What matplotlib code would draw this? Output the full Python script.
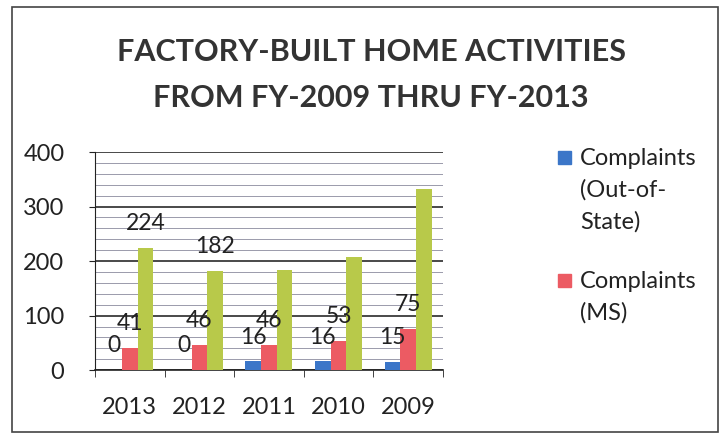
import numpy as np
import matplotlib
matplotlib.use("Agg")
import matplotlib.pyplot as plt
from matplotlib.patches import Rectangle
from matplotlib.ticker import MultipleLocator, FixedLocator

plt.rcParams['font.family'] = ['Lato', 'DejaVu Sans']

years = ['2013', '2012', '2011', '2010', '2009']
out_of_state = [0, 0, 16, 16, 15]
ms = [41, 46, 46, 53, 75]
third = [224, 182, 183, 208, 333]
third_labels = ['224', '182', '', '', '']
legend_lines = [['Complaints', '(Out-of-', 'State)'], ['Complaints', '(MS)']]

c_blue = '#3b76c8'
c_red = '#ec5b63'
c_green = '#b8c94a'
txt = '#222222'

fig = plt.figure(figsize=(7.25, 4.37), dpi=100)
ax = fig.add_axes([0.131, 0.153, 0.48, 0.499])

x = np.arange(len(years))
w = 0.225
b1 = ax.bar(x - w, out_of_state, w, color=c_blue, zorder=3)
b2 = ax.bar(x, ms, w, color=c_red, zorder=3)
b3 = ax.bar(x + w, third, w, color=c_green, zorder=3)

for bars, vals in [(b1, [str(v) for v in out_of_state]), (b2, [str(v) for v in ms]), (b3, third_labels)]:
    for r, t in zip(bars, vals):
        if t:
            ax.annotate(t, (r.get_x() + r.get_width() / 2, r.get_height()),
                        xytext=(0, 10), textcoords='offset points',
                        ha='center', va='bottom', fontsize=16.5, color=txt, zorder=4)

ax.set_xlim(-0.5, 4.5)
ax.set_ylim(0, 400)
ax.yaxis.set_major_locator(MultipleLocator(100))
ax.yaxis.set_minor_locator(MultipleLocator(20))
ax.grid(which='major', axis='y', color='#2a2a2a', lw=1.2, zorder=1)
ax.grid(which='minor', axis='y', color='#9a9aab', lw=0.7, zorder=1)
ax.tick_params(axis='y', which='minor', length=0)
ax.tick_params(axis='y', which='major', length=4, pad=18, labelsize=17,
               color=txt, labelcolor=txt)

ax.set_xticks(x)
ax.set_xticklabels(years)
ax.tick_params(axis='x', which='major', length=0, pad=19, labelsize=17, labelcolor=txt)
ax.xaxis.set_minor_locator(FixedLocator(np.arange(-0.5, 5, 1)))
ax.tick_params(axis='x', which='minor', length=5, color=txt)

for s in ['top', 'right']:
    ax.spines[s].set_visible(False)
ax.spines['left'].set_color(txt)
ax.spines['bottom'].set_color(txt)
ax.spines['bottom'].set_linewidth(1.2)

# legend drawn by hand so the marker sits on the first line
H = 437.0
W = 725.0
entries = [(c_blue, 165), (c_red, 288)]
for (col, base), lines in zip(entries, legend_lines):
    fig.patches.append(Rectangle((558 / W, 1 - (base - 1) / H), 13 / W, 13 / H,
                                 transform=fig.transFigure, color=col))
    for i, line in enumerate(lines):
        fig.text(580 / W, 1 - (base + 32 * i) / H, line, ha='left', va='baseline',
                 fontsize=17, color=txt)

fig.text(0.512, 0.88, 'FACTORY-BUILT HOME ACTIVITIES', ha='center', va='center',
         fontsize=22, fontweight='bold', color='#333333')
fig.text(0.512, 0.775, 'FROM FY-2009 THRU FY-2013', ha='center', va='center',
         fontsize=22, fontweight='bold', color='#333333')

fig.patches.append(Rectangle((0.016, 0.012), 0.975, 0.972, transform=fig.transFigure,
                             fill=False, edgecolor='#444444', lw=1.2))

fig.savefig('out.png', dpi=100)
